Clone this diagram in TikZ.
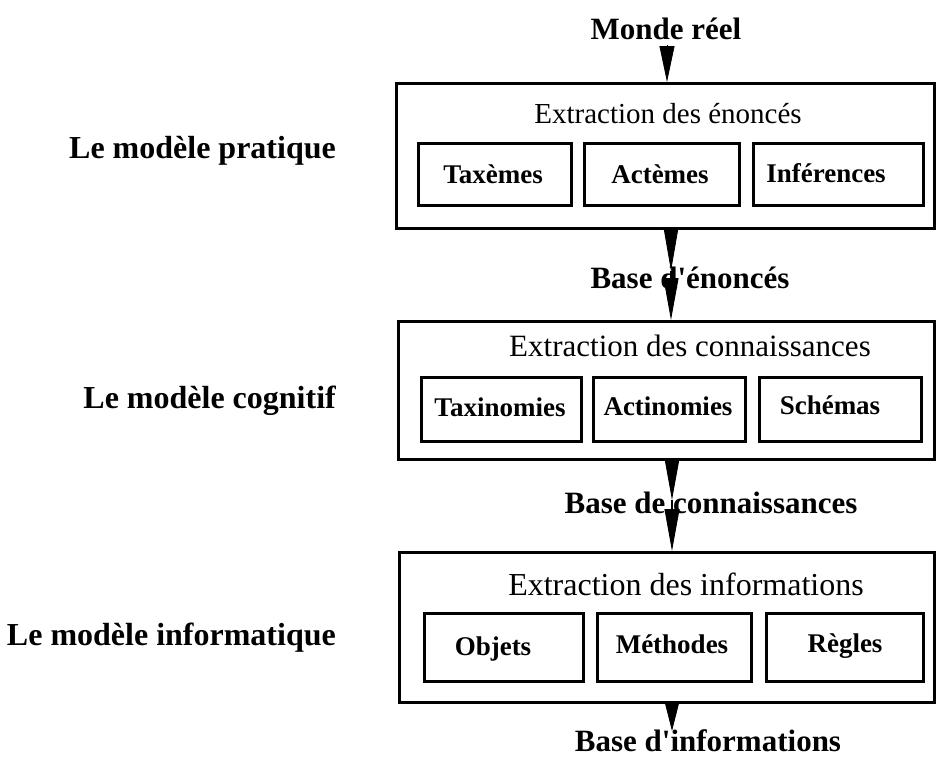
\documentclass[tikz,border=0pt]{standalone}
\usepackage{fontspec}
\setmainfont{Liberation Serif}
\usetikzlibrary{arrows.meta}
\begin{document}
\begin{tikzpicture}[x=1pt,y=-1pt,
  outerbox/.style={draw, line width=2.8pt, inner sep=0pt, anchor=north west},
  itembox/.style={draw, line width=2.8pt, inner sep=0pt, anchor=north west},
  sidelbl/.style={font=\fontsize{32}{38}\selectfont\bfseries, inner sep=0pt, anchor=base east},
  flowlbl/.style={font=\fontsize{31}{37}\selectfont\bfseries, inner sep=0pt, anchor=base},
  headlbl/.style={font=\fontsize{#1}{35}\selectfont, inner sep=0pt, anchor=base},
  itemlbl/.style={font=\fontsize{27}{31}\selectfont\bfseries, inner sep=0pt, anchor=base},
  wedge/.style={-{Triangle[length=#1, width=15pt]}, line width=0.8pt},
  thinline/.style={line width=2pt}
]
\useasboundingbox (0,0) rectangle (938,758);

% side labels
\node[sidelbl] (lp) at (336,158) {Le modèle pratique};
\node[sidelbl] (lc) at (336,408) {Le modèle cognitif};
\node[sidelbl] (li) at (336,645) {Le modèle informatique};

% outer boxes
\node[outerbox, minimum width=538pt, minimum height=145pt] (b1) at (395,82) {};
\node[outerbox, minimum width=536pt, minimum height=138pt] (b2) at (397,320) {};
\node[outerbox, minimum width=535pt, minimum height=150pt] (b3) at (398,551) {};

% headers
\node[headlbl=29] (h1) at (668,123) {Extraction des énoncés};
\node[headlbl=31] (h2) at (690,356) {Extraction des connaissances};
\node[headlbl=32] (h3) at (686,595) {Extraction des informations};

% row 1
\node[itembox, minimum width=153pt, minimum height=62pt] (r11) at (417,142) {};
\node[itembox, minimum width=155pt, minimum height=62pt] (r12) at (583,142) {};
\node[itembox, minimum width=170pt, minimum height=62pt] (r13) at (752,142) {};
\node[itemlbl] (t11) at (493,183) {Taxèmes};
\node[itemlbl] (t12) at (660,183) {Actèmes};
\node[itemlbl] (t13) at (826,182) {Inférences};

% row 2
\node[itembox, minimum width=160pt, minimum height=64pt] (r21) at (420,376) {};
\node[itembox, minimum width=152pt, minimum height=64pt] (r22) at (592,376) {};
\node[itembox, minimum width=162pt, minimum height=64pt] (r23) at (758,376) {};
\node[itemlbl] (t21) at (500,416) {Taxinomies};
\node[itemlbl] (t22) at (668,415) {Actinomies};
\node[itemlbl] (t23) at (830,414) {Schémas};

% row 3
\node[itembox, minimum width=159pt, minimum height=68pt] (r31) at (423,612) {};
\node[itembox, minimum width=154pt, minimum height=68pt] (r32) at (596,612) {};
\node[itembox, minimum width=157pt, minimum height=68pt] (r33) at (765,612) {};
\node[itemlbl] (t31) at (493,655) {Objets};
\node[itemlbl] (t32) at (672,653) {Méthodes};
\node[itemlbl] (t33) at (845,652) {Règles};

% flow labels
\node[flowlbl] (f0) at (666,39) {Monde réel};
\node[flowlbl] (f1) at (690,288) {Base d\textquotesingle énoncés};
\node[flowlbl] (f2) at (711,513) {Base de connaissances};
\node[flowlbl] (f3) at (708,751) {Base d\textquotesingle informations};

% arrow x positions
\coordinate (x1) at (667,0);
\coordinate (x2) at (671,0);
\coordinate (x3) at (672,0);
\coordinate (x4) at (672,0);
\coordinate (m2a) at (671,271);
\coordinate (m2b) at (671,278);
\coordinate (m3a) at (672,500);
\coordinate (m3b) at (672,509);
\coordinate (m4) at (672,731);

\draw[wedge=36pt] (f0.south -| x1) ++(0,5) -- (b1.north -| x1);
\draw[wedge=44pt] (b1.south -| x2) -- (m2a);
\draw[thinline] (m2a) -- (m2b);
\draw[wedge=42pt] (m2b) -- (b2.north -| x2);
\draw[wedge=42pt] (b2.south -| x3) -- (m3a);
\draw[thinline] (m3a) -- (m3b);
\draw[wedge=42pt] (m3b) -- (b3.north -| x3);
\draw[wedge=30pt] (b3.south -| x4) -- (m4);
\end{tikzpicture}
\end{document}
